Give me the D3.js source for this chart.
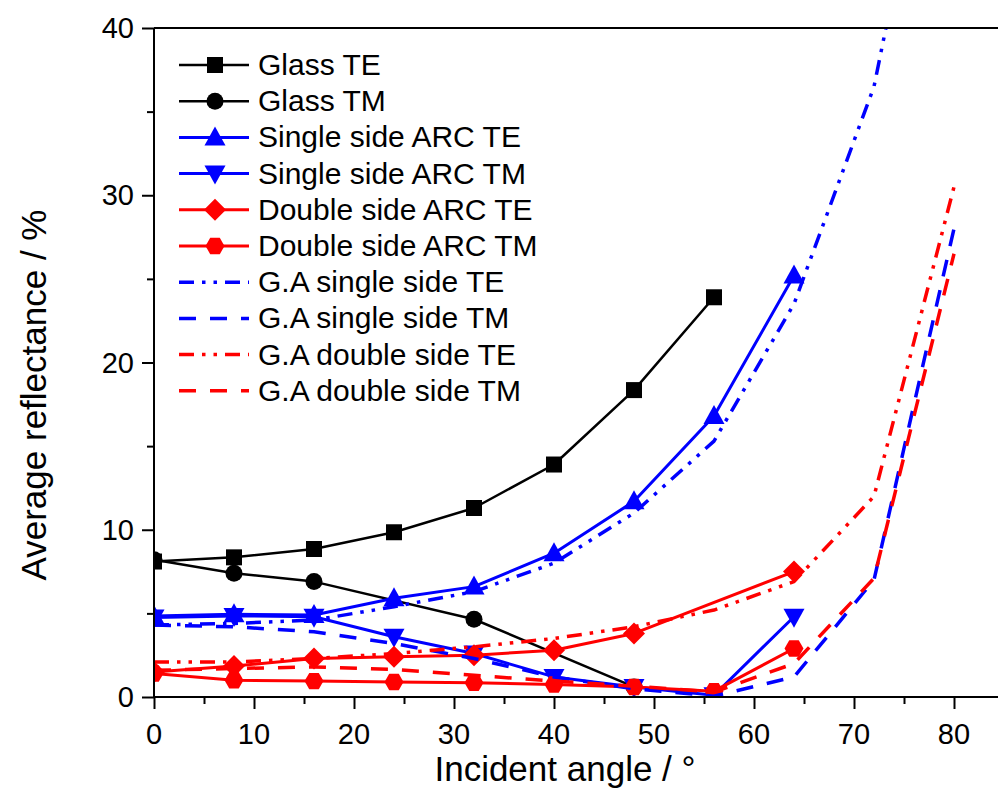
<!DOCTYPE html>
<html>
<head>
<meta charset="utf-8">
<script src="https://cdn.jsdelivr.net/npm/d3@7"></script>
<style>
  body { margin: 0; background: #fff; }
  text { font-family: "Liberation Sans", Arial, sans-serif; fill: #000; }
</style>
</head>
<body>
<div id="chart"></div>
<script>
// incident angles (deg)
const angles = [0, 8, 16, 24, 32, 40, 48, 56, 64, 72, 80];

// measured average reflectance (%), null = no point
const glassTE  = [8.1, 8.35, 8.85, 9.85, 11.3, 13.9, 18.35, 23.9, null, null, null];
const glassTM  = [8.2, 7.4, 6.9, null, 4.65, null, 0.6, null, null, null, null];
const singleTE = [4.85, 4.95, 4.9, 5.9, 6.6, 8.6, 11.7, 16.8, 25.2, null, null];
const singleTM = [4.75, 4.85, 4.8, 3.6, 2.6, 1.2, 0.6, 0.1, 4.8, null, null];
const doubleTE = [1.5, 1.85, 2.3, 2.4, 2.5, 2.8, 3.8, null, 7.5, null, null];
const doubleTM = [1.4, 1.0, 0.95, 0.9, 0.85, 0.75, 0.6, 0.35, 2.9, null, null];

// G.A (calculated) curves
const gaSingleTE = [4.3, 4.4, 4.6, 5.4, 6.3, 8.0, 11.0, 15.3, 23.5, 36.5, 60];
const gaSingleTM = [4.3, 4.2, 3.9, 3.2, 2.3, 1.2, 0.5, 0.05, 1.2, 7.0, 28.0];
const gaDoubleTE = [2.1, 2.1, 2.3, 2.6, 3.0, 3.5, 4.2, 5.2, 6.9, 12.0, 30.5];
const gaDoubleTM = [1.6, 1.7, 1.8, 1.65, 1.3, 0.95, 0.65, 0.3, 2.0, 7.1, 26.5];

const xTicks = [0, 10, 20, 30, 40, 50, 60, 70, 80];
const yTicks = [0, 10, 20, 30, 40];

const series = [
  { name: "Glass TE", values: glassTE, color: "#000", marker: "square", width: 2.5 },
  { name: "Glass TM", values: glassTM, color: "#000", marker: "circle", width: 2.5 },
  { name: "Single side ARC TE", values: singleTE, color: "#0000ff", marker: "up", width: 3 },
  { name: "Single side ARC TM", values: singleTM, color: "#0000ff", marker: "down", width: 3 },
  { name: "Double side ARC TE", values: doubleTE, color: "#ff0000", marker: "diamond", width: 3 },
  { name: "Double side ARC TM", values: doubleTM, color: "#ff0000", marker: "hexagon", width: 3 },
  { name: "G.A single side TE", values: gaSingleTE, color: "#0000ff", dash: "15,8,3.5,8,3.5,8", width: 3.5 },
  { name: "G.A single side TM", values: gaSingleTM, color: "#0000ff", dash: "17,14", width: 3.5 },
  { name: "G.A double side TE", values: gaDoubleTE, color: "#ff0000", dash: "15,8,3.5,8,3.5,8", width: 3.5 },
  { name: "G.A double side TM", values: gaDoubleTM, color: "#ff0000", dash: "17,14", width: 3.5 }
];

const width = 998, height = 810;
const mLeft = 154, mTop = 28, mBottom = 697, mRight = 1004;

const svg = d3.select("#chart").append("svg")
  .attr("width", width)
  .attr("height", height);

const x = d3.scaleLinear().domain([0, 85]).range([mLeft, mRight]);
const y = d3.scaleLinear().domain([0, 40]).range([mBottom, mTop]);

svg.append("clipPath").attr("id", "plot-clip")
  .append("rect")
  .attr("x", mLeft).attr("y", mTop)
  .attr("width", mRight - mLeft).attr("height", mBottom - mTop);

// marker shapes
function markerPath(type) {
  const p = d3.path();
  if (type === "square") {
    p.rect(-8, -8, 16, 16);
  } else if (type === "circle") {
    p.arc(0, 0, 8.5, 0, 2 * Math.PI);
  } else if (type === "up") {
    p.moveTo(0, -11); p.lineTo(10.5, 8); p.lineTo(-10.5, 8); p.closePath();
  } else if (type === "down") {
    p.moveTo(0, 11); p.lineTo(10.5, -8); p.lineTo(-10.5, -8); p.closePath();
  } else if (type === "diamond") {
    p.moveTo(0, -11); p.lineTo(11, 0); p.lineTo(0, 11); p.lineTo(-11, 0); p.closePath();
  } else if (type === "hexagon") {
    for (let i = 0; i < 6; i++) {
      const a = Math.PI / 3 * i;
      const px = 9.5 * Math.cos(a), py = 9.5 * Math.sin(a);
      if (i === 0) p.moveTo(px, py); else p.lineTo(px, py);
    }
    p.closePath();
  }
  return p.toString();
}

const plot = svg.append("g").attr("clip-path", "url(#plot-clip)");
const line = d3.line().x(d => x(d[0])).y(d => y(d[1]));

series.forEach(s => {
  const pts = angles.map((a, i) => [a, s.values[i]]).filter(d => d[1] != null);
  plot.append("path")
    .datum(pts)
    .attr("d", line)
    .attr("fill", "none")
    .attr("stroke", s.color)
    .attr("stroke-width", s.width)
    .attr("stroke-dasharray", s.dash || null)
    .attr("stroke-linejoin", "round");
  if (s.marker) {
    plot.selectAll(null)
      .data(pts)
      .join("path")
      .attr("transform", d => `translate(${x(d[0])},${y(d[1])})`)
      .attr("d", markerPath(s.marker))
      .attr("fill", s.color);
  }
});

// axes
const xAxis = svg.append("g").attr("transform", `translate(0,${mBottom})`);
xAxis.call(d3.axisBottom(x).tickValues(d3.range(0, 86, 5)).tickSize(7).tickFormat(""));
xAxis.selectAll(".tick line").attr("stroke-width", 2)
  .attr("y2", d => d % 10 === 0 ? 12 : 7);
xAxis.select(".domain").remove();
xTicks.forEach(t => {
  xAxis.append("text")
    .attr("x", x(t)).attr("y", 47)
    .attr("text-anchor", "middle")
    .attr("font-size", 29)
    .text(t);
});

const yAxis = svg.append("g").attr("transform", `translate(${mLeft},0)`);
yAxis.call(d3.axisLeft(y).tickValues(d3.range(0, 41, 5)).tickSize(7).tickFormat(""));
yAxis.selectAll(".tick line").attr("stroke-width", 2)
  .attr("x2", d => d % 10 === 0 ? -12 : -7);
yAxis.select(".domain").remove();
yTicks.forEach(t => {
  yAxis.append("text")
    .attr("x", -20).attr("y", y(t) + 10)
    .attr("text-anchor", "end")
    .attr("font-size", 29)
    .text(t);
});

// frame lines
svg.append("line").attr("x1", mLeft).attr("x2", width).attr("y1", mBottom).attr("y2", mBottom)
  .attr("stroke", "#000").attr("stroke-width", 2);
svg.append("line").attr("x1", mLeft).attr("x2", width).attr("y1", mTop).attr("y2", mTop)
  .attr("stroke", "#000").attr("stroke-width", 2);
svg.append("line").attr("x1", mLeft).attr("x2", mLeft).attr("y1", mTop).attr("y2", mBottom)
  .attr("stroke", "#000").attr("stroke-width", 2);

// axis titles
svg.append("text")
  .attr("x", 565).attr("y", 781)
  .attr("text-anchor", "middle")
  .attr("font-size", 35)
  .text("Incident angle / \u00b0");

svg.append("text")
  .attr("transform", `translate(46,395) rotate(-90)`)
  .attr("text-anchor", "middle")
  .attr("font-size", 35)
  .text("Average reflectance / %");

// legend
const legend = svg.append("g").attr("transform", "translate(179,65)");
series.forEach((s, i) => {
  const row = legend.append("g").attr("transform", `translate(0,${i * 36.2})`);
  row.append("line")
    .attr("x1", 0).attr("x2", 70)
    .attr("stroke", s.color)
    .attr("stroke-width", s.width)
    .attr("stroke-dasharray", s.dash || null);
  if (s.marker) {
    row.append("path")
      .attr("transform", "translate(36,0)")
      .attr("d", markerPath(s.marker))
      .attr("fill", s.color);
  }
  row.append("text")
    .attr("x", 79).attr("y", 10)
    .attr("font-size", 30)
    .text(s.name);
});
</script>
</body>
</html>
